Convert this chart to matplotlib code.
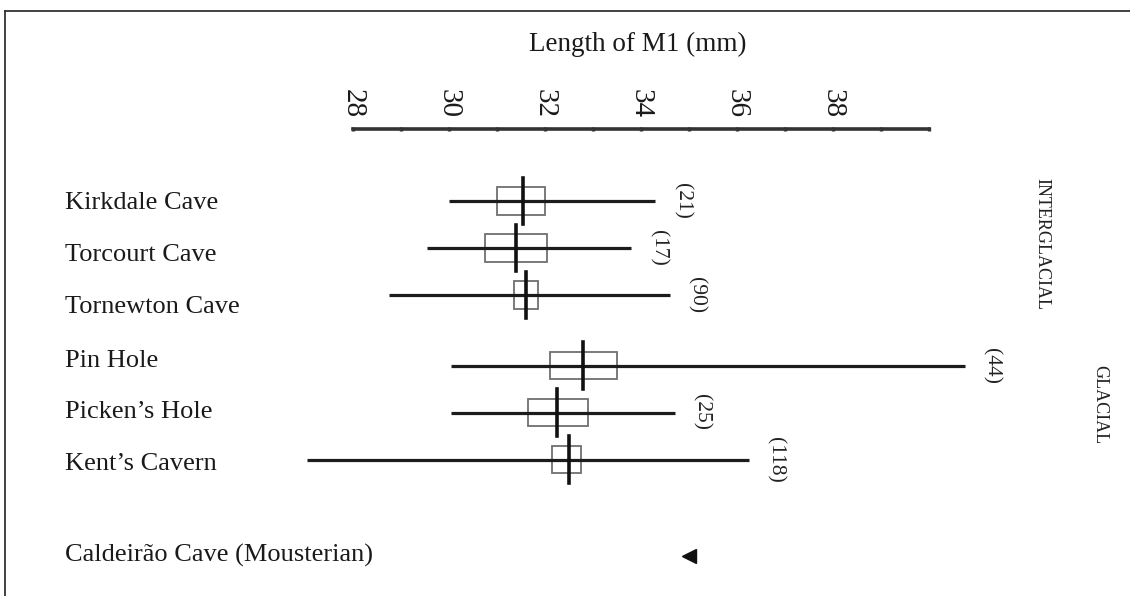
import matplotlib
matplotlib.use("Agg")
import matplotlib.pyplot as plt
from matplotlib.lines import Line2D
from matplotlib.patches import Rectangle
from matplotlib.transforms import blended_transform_factory

# Length of the first lower molar (M1), mm
sites = ["Kirkdale Cave", "Torcourt Cave", "Tornewton Cave",
         "Pin Hole", "Picken\u2019s Hole", "Kent\u2019s Cavern"]
n_specimens = [21, 17, 90, 44, 25, 118]
range_min = [30.0, 29.55, 28.75, 30.05, 30.05, 27.05]
range_max = [34.3, 33.8, 34.6, 40.75, 34.7, 36.25]
box_low = [31.0, 30.75, 31.35, 32.1, 31.65, 32.15]
box_high = [32.0, 32.05, 31.85, 33.5, 32.9, 32.75]
mean_length = [31.55, 31.4, 31.6, 32.8, 32.25, 32.5]

single_site = "Caldeir\u00e3o Cave (Mousterian)"
single_value = 35.0

major_ticks = [28, 30, 32, 34, 36, 38]
minor_ticks = [29, 31, 33, 35, 37, 39, 40]
x_range = (28, 40)

# vertical layout (row units)
mark_rows = [0, 1, 2, 3.5, 4.5, 5.5]
label_rows = [0.05, 1.15, 2.25, 3.4, 4.5, 5.6]
single_row = 7.55

W, H = 1130, 596
plt.rcParams["font.family"] = ["Liberation Serif", "DejaVu Serif"]

fig = plt.figure(figsize=(W / 100, H / 100), dpi=100)
ax_left, ax_right, ax_top = 353, 929, 129
ax = fig.add_axes([ax_left / W, 0, (ax_right - ax_left) / W, 1 - ax_top / H])
ax.set_xlim(*x_range)
row0_px, row_px = 201, 47
ax.set_ylim((H - row0_px) / row_px, (ax_top - row0_px) / row_px)
ax.patch.set_visible(False)

ink = "#1c1c1c"
for r, lo, hi, bl, bh, m, n in zip(mark_rows, range_min, range_max,
                                    box_low, box_high, mean_length, n_specimens):
    ax.add_patch(Rectangle((bl, r - 0.29), bh - bl, 0.58, facecolor="none",
                           edgecolor="#707070", lw=1.3, zorder=2, clip_on=False))
    ax.plot([lo, hi], [r, r], color=ink, lw=2.3, solid_capstyle="butt",
            zorder=3, clip_on=False)
    ax.plot([m, m], [r - 0.49, r + 0.49], color="#111111", lw=2.6,
            zorder=4, clip_on=False)
    ax.annotate(f"({n})", xy=(hi, r), xytext=(19, 0), textcoords="offset points",
                rotation=-90, ha="center", va="center", fontsize=15.5,
                color="#222222", annotation_clip=False)

ax.plot([single_value], [single_row], marker="<", markersize=10,
        color="#111111", linestyle="none", clip_on=False)

# scale bar along the top
ax.xaxis.tick_top()
ax.set_xticks(major_ticks)
ax.set_xticks(minor_ticks, minor=True)
ax.set_xticklabels([str(t) for t in major_ticks])
ax.tick_params(axis="x", which="both", direction="inout", length=3.5, width=2.4,
               color="#333333", top=True, bottom=False, labeltop=True,
               labelbottom=False, labelrotation=-90, labelsize=21, pad=6,
               labelcolor="#1a1a1a")
ax.set_yticks([])
for side in ("left", "right", "bottom"):
    ax.spines[side].set_visible(False)
ax.spines["top"].set_linewidth(2.6)
ax.spines["top"].set_color("#333333")

# site names
lab_tr = blended_transform_factory(fig.transFigure, ax.transData)
for r, name in zip(label_rows, sites):
    ax.text(65 / W, r, name, transform=lab_tr, ha="left", va="center",
            fontsize=19, color="#1a1a1a")
ax.text(65 / W, single_row, single_site, transform=lab_tr, ha="left",
        va="center", fontsize=19, color="#1a1a1a")

fig.text(638 / W, 1 - 44 / H, "Length of M1 (mm)", ha="center", va="center",
         fontsize=19.5, color="#1a1a1a")
fig.text(1042 / W, 1 - 244 / H, "INTERGLACIAL", rotation=-90, ha="center",
         va="center", fontsize=13, color="#222222")
fig.text(1100 / W, 1 - 405 / H, "GLACIAL", rotation=-90, ha="center",
         va="center", fontsize=13, color="#222222")

# frame edges
fig.add_artist(Line2D([5 / W, 1], [1 - 11 / H, 1 - 11 / H],
                      transform=fig.transFigure, color="#333333", lw=1.3))
fig.add_artist(Line2D([5 / W, 5 / W], [0, 1 - 11 / H],
                      transform=fig.transFigure, color="#333333", lw=1.3))

fig.savefig("out.png", dpi=100)
